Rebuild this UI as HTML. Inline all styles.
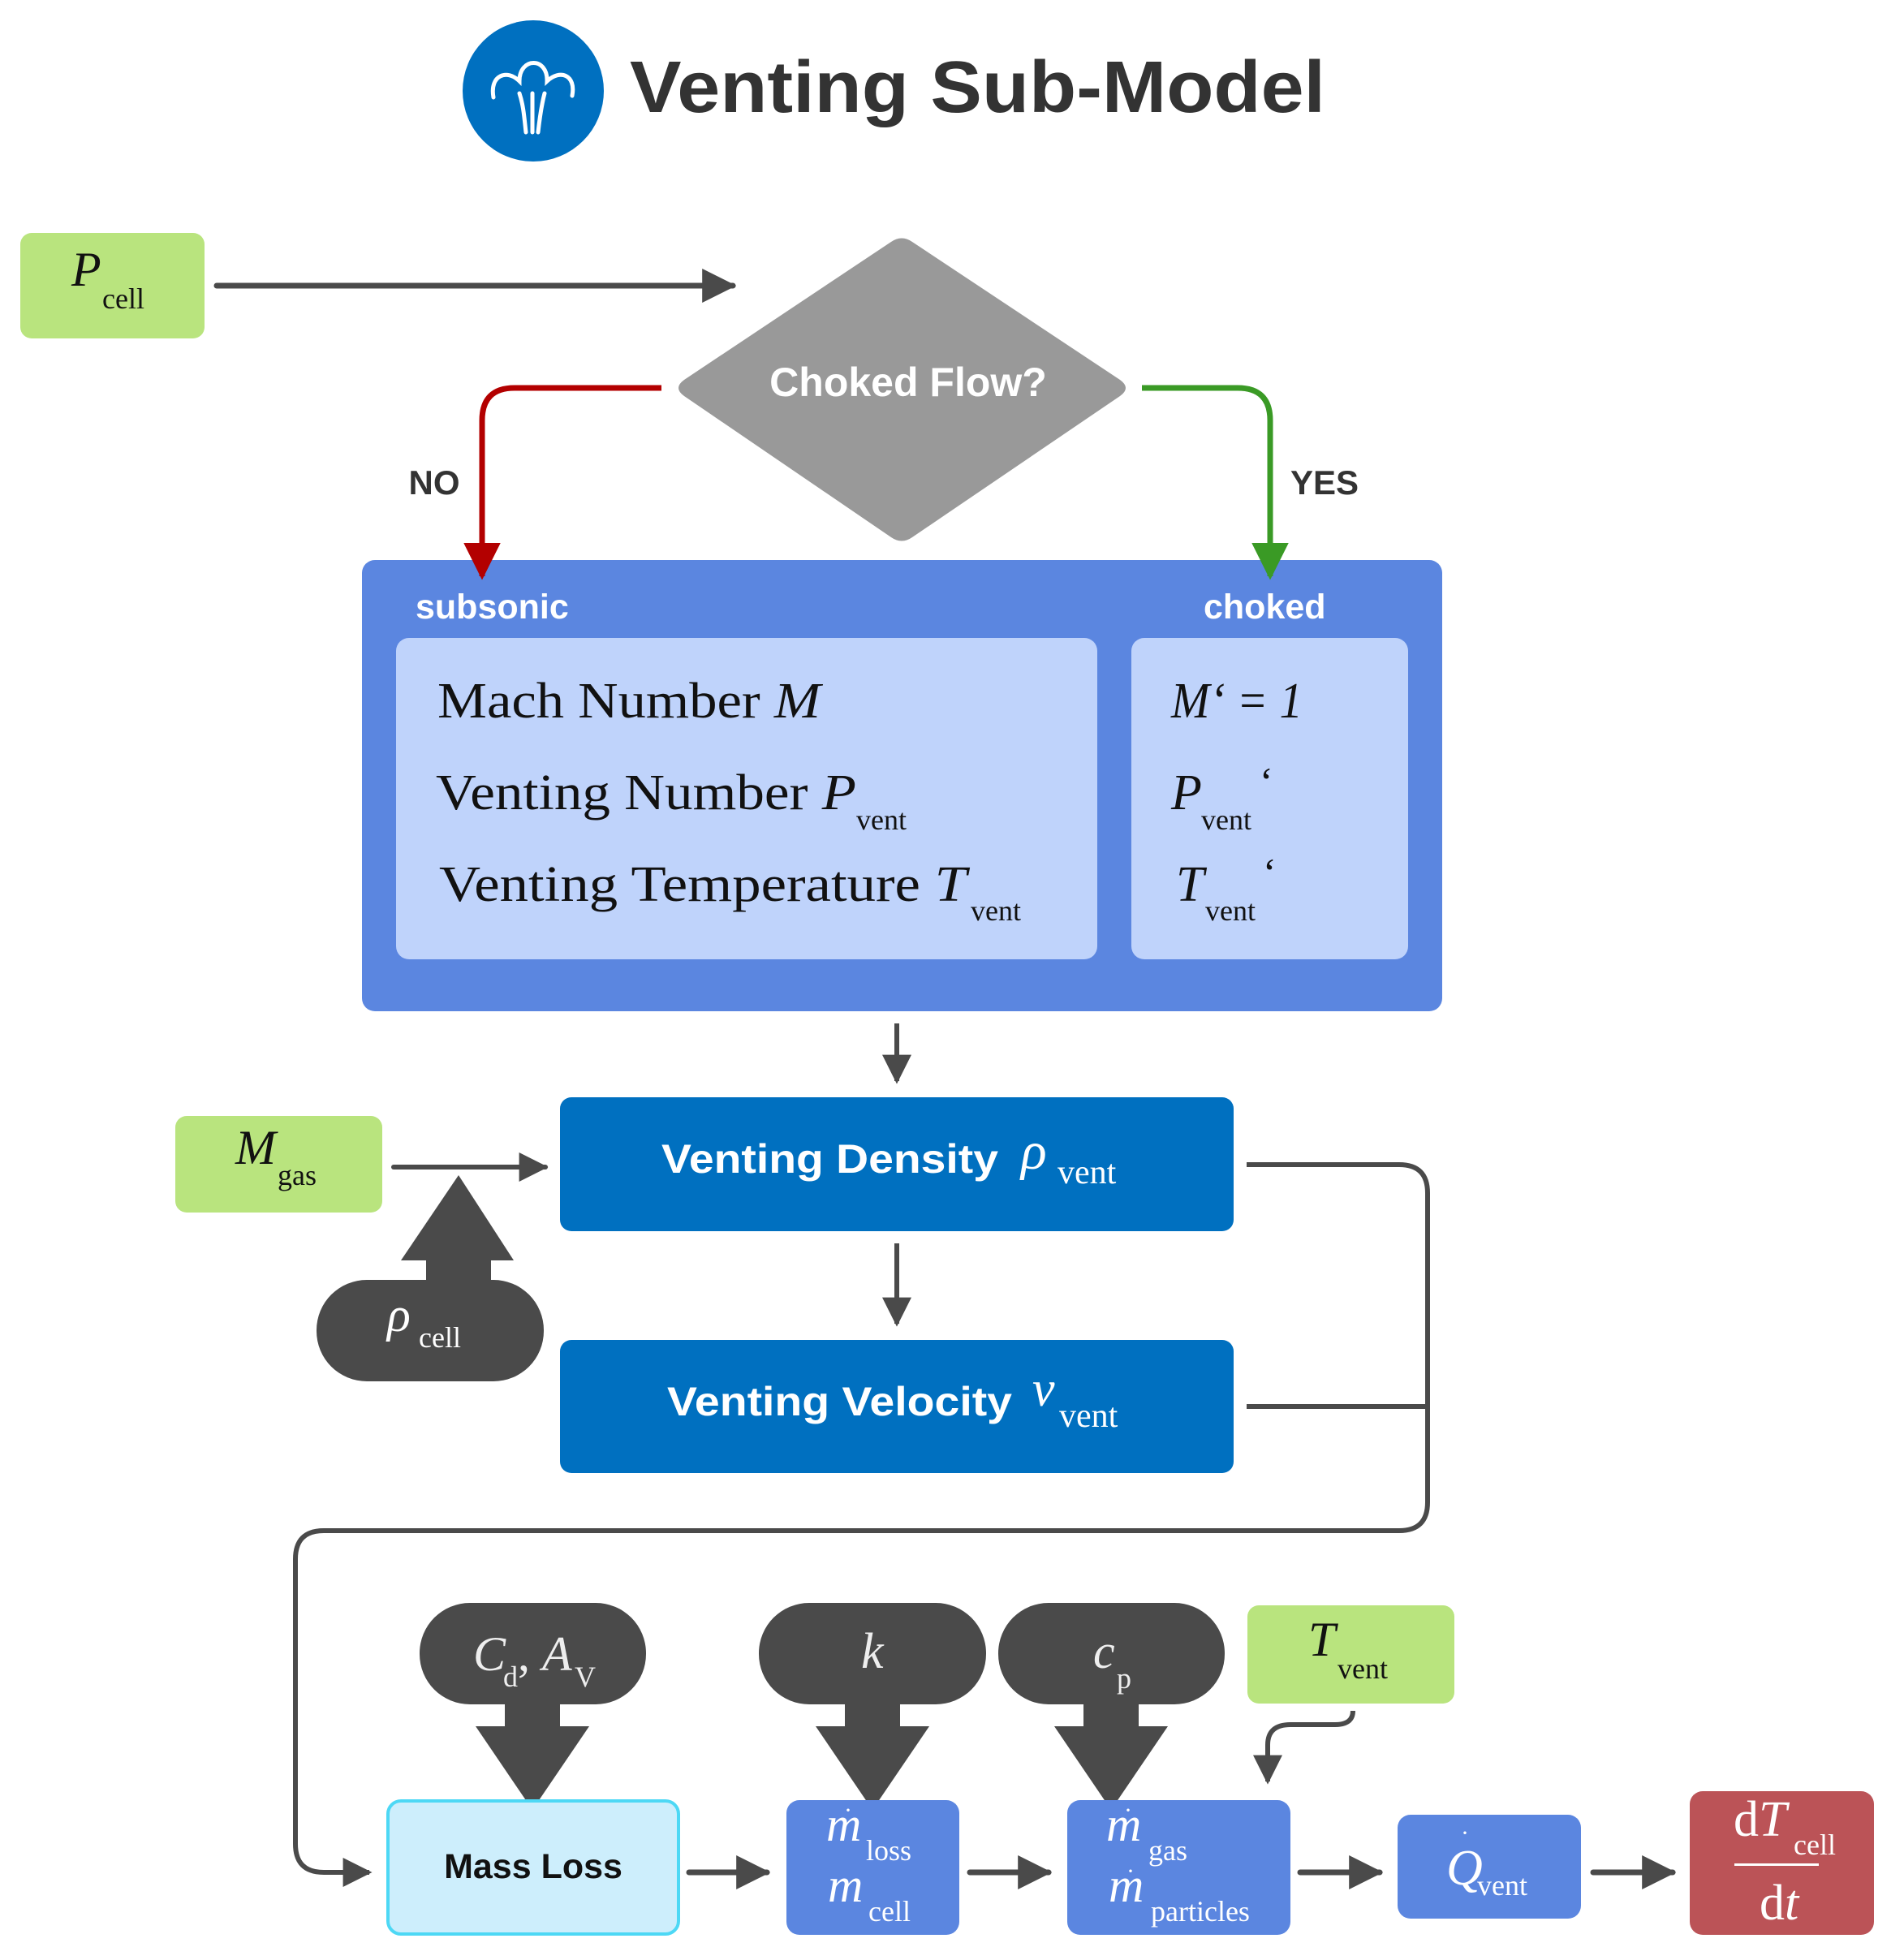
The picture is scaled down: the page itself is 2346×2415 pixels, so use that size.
<!DOCTYPE html>
<html><head><meta charset="utf-8"><style>
html,body{margin:0;padding:0;background:#fff;}
svg{display:block;}
.sans{font-family:"Liberation Sans",sans-serif;font-weight:bold;}
.ser{font-family:"Liberation Serif",serif;}
</style></head><body>
<svg width="2346" height="2415" viewBox="0 0 2346 2415" xmlns="http://www.w3.org/2000/svg">
<defs>
<marker id="ah" viewBox="0 0 10 10" refX="9" refY="5" markerWidth="6" markerHeight="6" orient="auto" markerUnits="strokeWidth"><path d="M0,0 L10,5 L0,10 z" fill="#4a4a4a"/></marker>
<marker id="ahr" viewBox="0 0 10 10" refX="9" refY="5" markerWidth="6.5" markerHeight="6.5" orient="auto" markerUnits="strokeWidth"><path d="M0,0 L10,5 L0,10 z" fill="#b30000"/></marker>
<marker id="ahg" viewBox="0 0 10 10" refX="9" refY="5" markerWidth="6.5" markerHeight="6.5" orient="auto" markerUnits="strokeWidth"><path d="M0,0 L10,5 L0,10 z" fill="#3a9a25"/></marker>
</defs>

<!-- title -->
<circle cx="657" cy="112" r="87" fill="#0070c0"/>
<g fill="none" stroke="#fff" stroke-width="5" stroke-linecap="round">
<path d="M608,120 C603,92 625,85 640,100 C640,70 675,70 674,100 C690,85 710,92 705,118"/>
<path d="M640,115 C645,130 646,145 648,163"/><path d="M656,115 L656,163"/><path d="M671,115 C667,130 665,145 663,163"/>
</g>
<text x="776" y="138" class="sans" font-size="90" fill="#333" textLength="857" lengthAdjust="spacingAndGlyphs">Venting Sub-Model</text>

<!-- Pcell -->
<rect x="25" y="287" width="227" height="130" rx="14" fill="#b9e47e"/>
<text x="88" y="352" class="ser" font-size="60" font-style="italic" fill="#111">P</text>
<text x="126" y="380" class="ser" font-size="36" fill="#111">cell</text>
<line x1="267" y1="352" x2="903" y2="352" stroke="#4a4a4a" stroke-width="7" stroke-linecap="round" marker-end="url(#ah)"/>

<!-- diamond -->
<path d="M1098,298 Q1111,289 1124,298 L1380,468 Q1394,478 1380,488 L1124,662 Q1111,671 1098,662 L843,488 Q829,478 843,468 Z" fill="#999"/>
<text x="1119" y="488" class="sans" font-size="50" fill="#fff" text-anchor="middle">Choked Flow?</text>

<!-- big blue -->
<rect x="446" y="690" width="1331" height="556" rx="16" fill="#5b86e0"/>
<text x="512" y="762" class="sans" font-size="43" fill="#fff">subsonic</text>
<text x="1483" y="762" class="sans" font-size="43" fill="#fff">choked</text>
<rect x="488" y="786" width="864" height="396" rx="16" fill="#bfd3fb"/>
<rect x="1394" y="786" width="341" height="396" rx="16" fill="#bfd3fb"/>
<g class="ser" fill="#111">
<text x="539" y="884" font-size="62" textLength="472" lengthAdjust="spacingAndGlyphs">Mach Number <tspan font-style="italic">M</tspan></text>
<text x="537" y="997" font-size="62" textLength="518" lengthAdjust="spacingAndGlyphs">Venting Number <tspan font-style="italic">P</tspan></text>
<text x="1055" y="1022" font-size="36">vent</text>
<text x="541" y="1110" font-size="62" textLength="650" lengthAdjust="spacingAndGlyphs">Venting Temperature <tspan font-style="italic">T</tspan></text>
<text x="1196" y="1134" font-size="36">vent</text>
<text x="1443" y="884" font-size="62" font-style="italic" textLength="162" lengthAdjust="spacingAndGlyphs">M‘ = 1</text>
<text x="1443" y="997" font-size="62" font-style="italic">P</text>
<text x="1480" y="1022" font-size="36">vent</text>
<text x="1552" y="980" font-size="50">‘</text>
<text x="1449" y="1110" font-size="62" font-style="italic">T</text>
<text x="1485" y="1134" font-size="36">vent</text>
<text x="1556" y="1092" font-size="50">‘</text>
</g>

<!-- NO / YES -->
<path d="M815,478 L634,478 Q594,478 594,518 L594,710" fill="none" stroke="#b30000" stroke-width="7" marker-end="url(#ahr)"/>
<text x="535" y="609" class="sans" font-size="42" fill="#333" text-anchor="middle">NO</text>
<path d="M1407,478 L1525,478 Q1565,478 1565,518 L1565,710" fill="none" stroke="#3a9a25" stroke-width="7" marker-end="url(#ahg)"/>
<text x="1632" y="609" class="sans" font-size="42" fill="#333" text-anchor="middle">YES</text>

<!-- arrows down -->
<line x1="1105" y1="1261" x2="1105" y2="1332" stroke="#4a4a4a" stroke-width="6" marker-end="url(#ah)"/>
<line x1="1105" y1="1532" x2="1105" y2="1631" stroke="#4a4a4a" stroke-width="6" marker-end="url(#ah)"/>

<!-- venting boxes -->
<rect x="690" y="1352" width="830" height="165" rx="14" fill="#0070c0"/>
<text x="815" y="1445" class="sans" font-size="50" fill="#fff" textLength="415" lengthAdjust="spacingAndGlyphs">Venting Density</text>
<text x="1258" y="1440" class="ser" font-size="66" font-style="italic" fill="#fff">ρ</text>
<text x="1303" y="1458" class="ser" font-size="42" fill="#fff">vent</text>
<rect x="690" y="1651" width="830" height="164" rx="14" fill="#0070c0"/>
<text x="822" y="1744" class="sans" font-size="50" fill="#fff" textLength="425" lengthAdjust="spacingAndGlyphs">Venting Velocity</text>
<text x="1272" y="1732" class="ser" font-size="62" font-style="italic" fill="#fff">v</text>
<text x="1305" y="1758" class="ser" font-size="42" fill="#fff">vent</text>

<!-- Mgas -->
<rect x="216" y="1375" width="255" height="119" rx="14" fill="#b9e47e"/>
<text x="290" y="1434" class="ser" font-size="60" font-style="italic" fill="#111">M</text>
<text x="342" y="1460" class="ser" font-size="36" fill="#111">gas</text>
<line x1="485" y1="1438" x2="672" y2="1438" stroke="#4a4a4a" stroke-width="6" stroke-linecap="round" marker-end="url(#ah)"/>

<!-- rho cell -->
<path d="M525,1582 L525,1553 L494,1553 L565,1448 L633,1553 L605,1553 L605,1582 Z" fill="#4a4a4a"/>
<rect x="390" y="1577" width="280" height="125" rx="62" fill="#4a4a4a"/>
<text x="477" y="1640" class="ser" font-size="60" font-style="italic" fill="#fff">ρ</text>
<text x="516" y="1660" class="ser" font-size="36" fill="#fff">cell</text>

<!-- connector -->
<g fill="none" stroke="#4a4a4a" stroke-width="6">
<path d="M1536,1435 L1724,1435 Q1759,1435 1759,1470 L1759,1851 Q1759,1886 1724,1886 L399,1886 Q364,1886 364,1921 L364,2272 Q364,2307 399,2307 L455,2307" marker-end="url(#ah)"/>
<path d="M1536,1733 L1759,1733"/>
</g>

<!-- input pills -->
<g fill="#4a4a4a">
<rect x="517" y="1975" width="279" height="125" rx="62"/>
<path d="M622,2098 L690,2098 L690,2127 L726,2127 L656,2230 L586,2127 L622,2127 Z"/>
<rect x="935" y="1975" width="280" height="125" rx="62"/>
<path d="M1041,2098 L1109,2098 L1109,2127 L1145,2127 L1075,2230 L1005,2127 L1041,2127 Z"/>
<rect x="1230" y="1975" width="279" height="125" rx="62"/>
<path d="M1335,2098 L1403,2098 L1403,2127 L1439,2127 L1369,2230 L1299,2127 L1335,2127 Z"/>
</g>
<g class="ser" fill="#eee">
<text x="583" y="2058" font-size="60" font-style="italic">C</text>
<text x="620" y="2078" font-size="36">d</text>
<text x="638" y="2058" font-size="60">,</text>
<text x="668" y="2058" font-size="60" font-style="italic">A</text>
<text x="708" y="2078" font-size="36">V</text>
<text x="1061" y="2055" font-size="62" font-style="italic">k</text>
<text x="1347" y="2055" font-size="60" font-style="italic">c</text>
<text x="1376" y="2080" font-size="36">p</text>
</g>
<rect x="1537" y="1978" width="255" height="121" rx="14" fill="#b9e47e"/>
<text x="1612" y="2040" class="ser" font-size="60" font-style="italic" fill="#111">T</text>
<text x="1648" y="2068" class="ser" font-size="36" fill="#111">vent</text>
<path d="M1667,2108 Q1667,2125 1645,2125 L1590,2125 Q1562,2125 1562,2150 L1562,2195" fill="none" stroke="#4a4a4a" stroke-width="6" marker-end="url(#ah)"/>

<!-- bottom row -->
<rect x="478" y="2219" width="358" height="164" rx="16" fill="#cdeefc" stroke="#4dd8f5" stroke-width="4"/>
<text x="657" y="2314" class="sans" font-size="43" fill="#111" text-anchor="middle">Mass Loss</text>
<rect x="969" y="2218" width="213" height="166" rx="16" fill="#5b86e0"/>
<rect x="1315" y="2218" width="275" height="166" rx="16" fill="#5b86e0"/>
<rect x="1722" y="2236" width="226" height="128" rx="16" fill="#5b86e0"/>
<rect x="2082" y="2207" width="227" height="177" rx="16" fill="#bb5357"/>
<g stroke="#4a4a4a" stroke-width="7" stroke-linecap="round">
<line x1="849" y1="2307" x2="945" y2="2307" marker-end="url(#ah)"/>
<line x1="1195" y1="2307" x2="1292" y2="2307" marker-end="url(#ah)"/>
<line x1="1602" y1="2307" x2="1700" y2="2307" marker-end="url(#ah)"/>
<line x1="1963" y1="2307" x2="2061" y2="2307" marker-end="url(#ah)"/>
</g>
<g class="ser" fill="#fff">
<text x="1018" y="2268" font-size="60" font-style="italic">m</text>
<text x="1040" y="2240" font-size="30">·</text>
<text x="1067" y="2292" font-size="36">loss</text>
<text x="1020" y="2343" font-size="60" font-style="italic">m</text>
<text x="1070" y="2367" font-size="36">cell</text>
<text x="1363" y="2268" font-size="60" font-style="italic">m</text>
<text x="1385" y="2240" font-size="30">·</text>
<text x="1415" y="2292" font-size="36">gas</text>
<text x="1366" y="2343" font-size="60" font-style="italic">m</text>
<text x="1388" y="2315" font-size="30">·</text>
<text x="1418" y="2367" font-size="36">particles</text>
<text x="1782" y="2322" font-size="62" font-style="italic">Q</text>
<text x="1800" y="2268" font-size="30">·</text>
<text x="1820" y="2335" font-size="36">vent</text>
<text x="2136" y="2262" font-size="62">d<tspan font-style="italic">T</tspan></text>
<text x="2210" y="2285" font-size="36">cell</text>
<rect x="2137" y="2296" width="104" height="3" fill="#fff"/>
<text x="2168" y="2365" font-size="62">d<tspan font-style="italic">t</tspan></text>
</g>
</svg>
</body></html>
